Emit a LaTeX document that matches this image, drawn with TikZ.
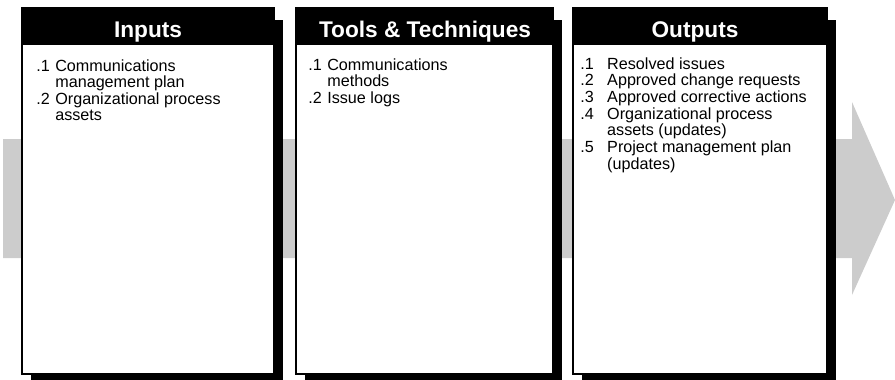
\documentclass[tikz,border=0pt]{standalone}
\usepackage{fontspec}
\setmainfont{Liberation Sans}
\usepackage{xcolor}
\usepackage{tikz}
\usetikzlibrary{positioning}

\definecolor{flowgray}{HTML}{CCCCCC}

\newcommand{\itemlist}[2]{\begin{tabular}[t]{@{}p{#1}@{}l@{}}#2\end{tabular}}

\begin{document}
\begin{tikzpicture}[
  x=0.02cm, y=-0.02cm,
  shade/.style={fill=black},
  panel/.style={draw=black, line width=1.1pt, fill=white},
  headbar/.style={fill=black},
  headtext/.style={anchor=base, inner sep=0pt, text=white, font=\fontsize{12.9}{14}\selectfont\bfseries},
  items/.style={anchor=base west, inner sep=0pt, font=\fontsize{9.2}{9.45}\selectfont},
]
\useasboundingbox (0,0) rectangle (895,379);

% big process arrow behind the panels
\fill[flowgray] (3,139) -- (852,139) -- (852,102) -- (895,200) -- (852,295)
  -- (852,258) -- (3,258) -- cycle;

% panels: shadow, frame, black title bar
\foreach \xl/\xr in {22/274, 296/553, 573/827} {
  \fill[shade] (\xl+9,20) rectangle (\xr+9,382);
  \filldraw[panel] (\xl,8) rectangle (\xr,374);
  \fill[headbar] (\xl,8) rectangle (\xr,45);
}

\node[headtext] (inputs) at (148,37) {Inputs};
\node[headtext] (tools) at (425,37) {Tools \& Techniques};
\node[headtext] (outputs) at (695,37) {Outputs};

\node[items] (inlist) at (36,71) {\itemlist{10.8pt}{%
  .1 & Communications\\
     & management plan\\
  .2 & Organizational process\\
     & assets}};
\node[items] (toollist) at (308,70) {\itemlist{10.8pt}{%
  .1 & Communications\\
     & methods\\
  .2 & Issue logs}};
\node[items] (outlist) at (580,69) {\itemlist{15.3pt}{%
  .1 & Resolved issues\\
  .2 & Approved change requests\\
  .3 & Approved corrective actions\\
  .4 & Organizational process\\
     & assets (updates)\\
  .5 & Project management plan\\
     & (updates)}};
\end{tikzpicture}
\end{document}
